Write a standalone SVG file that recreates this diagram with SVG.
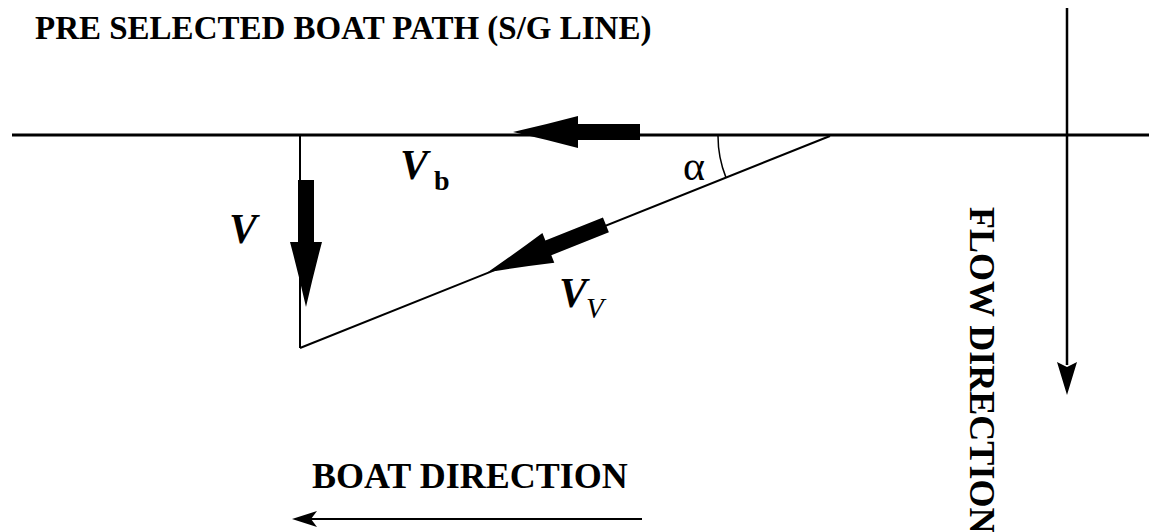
<svg xmlns="http://www.w3.org/2000/svg" width="1149" height="532" viewBox="0 0 1149 532">
<style>
.t{font-family:"Liberation Serif","Times New Roman",serif;fill:#000}
.b{font-weight:bold}
.i{font-style:italic}
.ln{stroke:#000;fill:none}
</style>
<defs>
<path id="fat" d="M0,0 Q33,-7.5 65,-16 L65,-8 L127,-8 L127,8 L65,8 L65,16 Q33,7.5 0,0 Z" fill="#000"/>
</defs>
<rect width="1149" height="532" fill="#fff"/>
<g id="title"><text class="t b" x="35" y="39" font-size="33">PRE SELECTED BOAT PATH (S/G LINE)</text></g>
<g id="connectors">
<line class="ln" x1="12" y1="135" x2="1149" y2="135" stroke-width="3"/>
<line class="ln" x1="300" y1="135" x2="300" y2="348" stroke-width="2"/>
<line class="ln" x1="300" y1="348" x2="830" y2="136" stroke-width="2"/>
<path class="ln" d="M718,136 A112,112 0 0 0 726,177.6" stroke-width="1.5"/>
<line class="ln" x1="1067" y1="8" x2="1067" y2="365" stroke-width="2.5"/>
<path d="M1057,362 L1067,395 L1077,362 L1067,367 Z" fill="#000"/>
<line class="ln" x1="642" y1="519" x2="300" y2="519" stroke-width="2"/>
<path d="M292,519 L317,511 L311,519 L317,527 Z" fill="#000"/>
</g>
<g id="arrow-vb"><use href="#fat" transform="translate(513,132)"/></g>
<g id="arrow-v"><use href="#fat" transform="translate(306,307) rotate(-90)"/></g>
<g id="arrow-vv"><use href="#fat" transform="translate(488,272) rotate(-21.8)"/></g>
<g id="label-v"><text class="t b i" x="229" y="243" font-size="42">V</text></g>
<g id="label-vb"><text class="t b i" x="400" y="179" font-size="42">V</text><text class="t b" x="434" y="190" font-size="28">b</text></g>
<g id="label-vv"><text class="t b i" x="559" y="307" font-size="42">V</text><text class="t i" x="586" y="318" font-size="29">V</text></g>
<g id="label-alpha"><text class="t" x="683" y="180" font-size="42">α</text></g>
<g id="label-boat"><text class="t b" x="312" y="488" font-size="36">BOAT DIRECTION</text></g>
<g id="label-flow"><text class="t b" transform="translate(970,207) rotate(90)" font-size="36">FLOW DIRECTION</text></g>
</svg>
